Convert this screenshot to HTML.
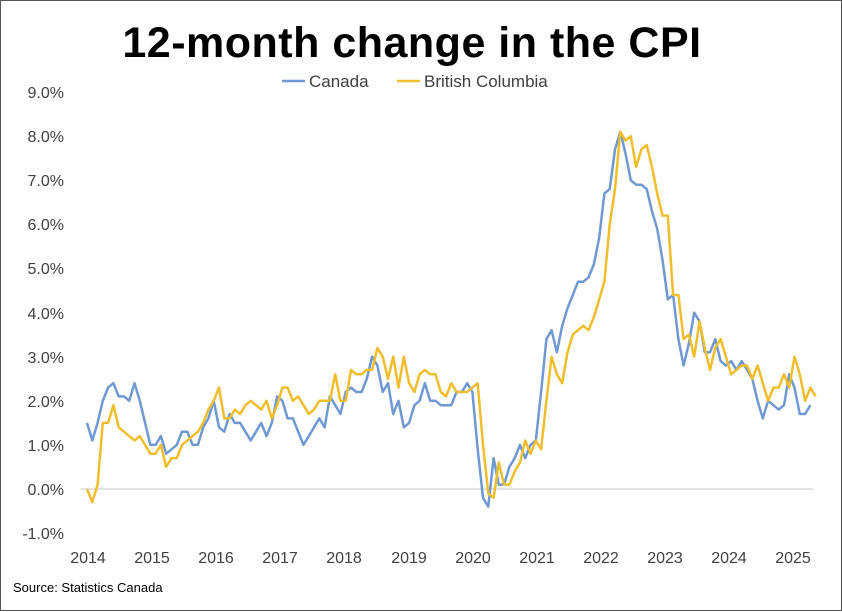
<!DOCTYPE html>
<html><head><meta charset="utf-8"><style>
html,body{margin:0;padding:0;background:#fff;}
#c{position:relative;width:840px;height:609px;border:1px solid #555;font-family:"Liberation Sans",sans-serif;}
svg{position:absolute;left:0;top:0;}
</style></head><body><div id="c">
<svg width="842" height="611" viewBox="0 0 842 611" xmlns="http://www.w3.org/2000/svg">
<text x="411" y="56" text-anchor="middle" font-family="Liberation Sans, sans-serif" font-weight="bold" font-size="43" letter-spacing="0.5" fill="#000">12-month change in the CPI</text>
<line x1="281" y1="80" x2="304" y2="80" stroke="#7099d3" stroke-width="2.5"/>
<text x="308" y="86" font-size="17" fill="#404040">Canada</text>
<line x1="396" y1="80" x2="419" y2="80" stroke="#f0be2c" stroke-width="2.5"/>
<text x="423" y="86" font-size="17" fill="#404040">British Columbia</text>
<g font-size="16" fill="#404040" text-anchor="end">
<text x="63" y="97">9.0%</text><text x="63" y="141">8.0%</text><text x="63" y="185">7.0%</text><text x="63" y="229">6.0%</text><text x="63" y="273">5.0%</text><text x="63" y="318">4.0%</text><text x="63" y="362">3.0%</text><text x="63" y="406">2.0%</text><text x="63" y="450">1.0%</text><text x="63" y="494">0.0%</text><text x="63" y="538">-1.0%</text>
</g>
<line x1="80" y1="488" x2="812" y2="488" stroke="#d9d9d9" stroke-width="1.5"/>
<g font-size="16" fill="#404040" text-anchor="middle">
<text x="87" y="562">2014</text><text x="151" y="562">2015</text><text x="215" y="562">2016</text><text x="279" y="562">2017</text><text x="343" y="562">2018</text><text x="408" y="562">2019</text><text x="472" y="562">2020</text><text x="536" y="562">2021</text><text x="600" y="562">2022</text><text x="664" y="562">2023</text><text x="728" y="562">2024</text><text x="792" y="562">2025</text>
</g>
<text x="12" y="591" font-size="13" fill="#000">Source: Statistics Canada</text>
<polyline id="ca" fill="none" stroke="#7099d3" stroke-width="2.5" stroke-linejoin="round"/>
<polyline id="bc" fill="none" stroke="#f0be2c" stroke-width="2.5" stroke-linejoin="round"/>
</svg></div>
<script>
var ca=[1.5,1.1,1.5,2.0,2.3,2.4,2.1,2.1,2.0,2.4,2.0,1.5,
1.0,1.0,1.2,0.8,0.9,1.0,1.3,1.3,1.0,1.0,1.4,1.6,
2.0,1.4,1.3,1.7,1.5,1.5,1.3,1.1,1.3,1.5,1.2,1.5,
2.1,2.0,1.6,1.6,1.3,1.0,1.2,1.4,1.6,1.4,2.1,1.9,
1.7,2.2,2.3,2.2,2.2,2.5,3.0,2.8,2.2,2.4,1.7,2.0,
1.4,1.5,1.9,2.0,2.4,2.0,2.0,1.9,1.9,1.9,2.2,2.2,
2.4,2.2,0.9,-0.2,-0.4,0.7,0.1,0.1,0.5,0.7,1.0,0.7,
1.0,1.1,2.2,3.4,3.6,3.1,3.7,4.1,4.4,4.7,4.7,4.8,
5.1,5.7,6.7,6.8,7.7,8.1,7.6,7.0,6.9,6.9,6.8,6.3,
5.9,5.2,4.3,4.4,3.4,2.8,3.3,4.0,3.8,3.1,3.1,3.4,
2.9,2.8,2.9,2.7,2.9,2.7,2.5,2.0,1.6,2.0,1.9,1.8,
1.9,2.6,2.3,1.7,1.7,1.9];
var bc=[0.0,-0.3,0.1,1.5,1.5,1.9,1.4,1.3,1.2,1.1,1.2,1.0,
0.8,0.8,1.0,0.5,0.7,0.7,1.0,1.1,1.2,1.3,1.5,1.8,
2.0,2.3,1.6,1.6,1.8,1.7,1.9,2.0,1.9,1.8,2.0,1.6,
1.9,2.3,2.3,2.0,2.1,1.9,1.7,1.8,2.0,2.0,2.0,2.6,
2.0,2.0,2.7,2.6,2.6,2.7,2.7,3.2,3.0,2.5,3.0,2.3,
3.0,2.4,2.2,2.6,2.7,2.6,2.6,2.2,2.1,2.4,2.2,2.2,
2.2,2.3,2.4,1.0,-0.1,-0.2,0.6,0.1,0.1,0.4,0.6,1.1,
0.8,1.1,0.9,2.0,3.0,2.6,2.4,3.1,3.5,3.6,3.7,3.6,
3.9,4.3,4.7,6.0,6.8,8.1,7.9,8.0,7.3,7.7,7.8,7.3,
6.7,6.2,6.2,4.4,4.4,3.4,3.5,3.0,3.8,3.2,2.7,3.2,
3.4,3.0,2.6,2.7,2.8,2.8,2.5,2.8,2.4,2.0,2.3,2.3,
2.6,2.3,3.0,2.6,2.0,2.3,2.1];
function pts(a){return a.map(function(v,i){return (86+i*5.28).toFixed(1)+","+(488-v*44.1).toFixed(1)}).join(" ")}
document.getElementById("ca").setAttribute("points",pts(ca));
document.getElementById("bc").setAttribute("points",pts(bc));
</script>
</body></html>
